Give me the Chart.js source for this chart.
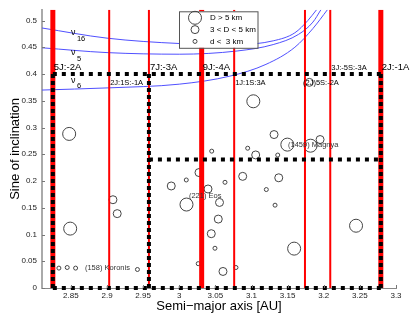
<!DOCTYPE html>
<html>
<head>
<meta charset="utf-8">
<script src="https://cdn.jsdelivr.net/npm/chart.js@4.4.1/dist/chart.umd.min.js"></script>
<style>
  html, body { margin: 0; padding: 0; background: #fff; }
  #wrap { width: 415px; height: 319px; }
</style>
</head>
<body>
<div id="wrap"><canvas id="chart" width="415" height="319"></canvas></div>
<script>
// Resonances and asteroid families in the outer main belt (a vs sin i)

// ----------------- Data ----------------
const xTicks = [2.85, 2.9, 2.95, 3, 3.05, 3.1, 3.15, 3.2, 3.25, 3.3];
const xTickLabels = ["2.85", "2.9", "2.95", "3", "3.05", "3.1", "3.15", "3.2", "3.25", "3.3"];
const yTicks = [0, 0.05, 0.1, 0.15, 0.2, 0.25, 0.3, 0.35, 0.4, 0.45, 0.5];
const yTickLabels = ["0", "0.05", "0.1", "0.15", "0.2", "0.25", "0.3", "0.35", "0.4", "0.45", "0.5"];

// mean-motion resonances (semi-major axis, AU)
const resNames = ["5J:-2A", "2J:1S:-1A", "7J:-3A", "9J:-4A", "1J:1S:3A", "(2J)5S:-2A", "3J:-5S:-3A", "2J:-1A"];
const resA = [2.825, 2.903, 2.958, 3.031, 3.076, 3.174, 3.209, 3.279];
const resStrong = [true, false, false, true, false, false, false, true];
const resLabelAbove = [true, false, true, true, false, false, true, true];

// family region boundaries
const boundA = [2.825, 2.958, 3.279];
const boundTop = 0.4;
const boundMid = 0.24;

// secular resonances
const secNames = ["16", "5", "6"];
const nu16A = [2.81, 2.90, 3.00, 3.08, 3.13, 3.16, 3.178, 3.19];
const nu16S = [0.486, 0.467, 0.457, 0.455, 0.462, 0.477, 0.50, 0.52];
const nu5A = [2.81, 2.90, 3.00, 3.08, 3.13, 3.165, 3.185, 3.196];
const nu5S = [0.449, 0.440, 0.437, 0.443, 0.455, 0.474, 0.497, 0.52];
const nu6A = [2.81, 2.90, 3.00, 3.07, 3.12, 3.16, 3.185, 3.205];
const nu6S = [0.370, 0.374, 0.381, 0.396, 0.418, 0.450, 0.485, 0.52];
const secLabelS = [0.477, 0.440, 0.3885];

// asteroids by size class
const bigA = [2.8476, 2.849, 3.010, 3.1025, 3.1496, 3.1817, 3.159, 3.2447];
const bigS = [0.288, 0.111, 0.156, 0.349, 0.268, 0.266, 0.0736, 0.1164];
const midA = [2.9082, 2.9141, 2.9889, 3.0273, 3.0398, 3.0557, 3.0540, 3.0443, 3.0605, 3.0878, 3.1058, 3.1377, 3.1312, 3.1949, 3.180];
const midS = [0.165, 0.139, 0.1907, 0.2158, 0.1851, 0.1599, 0.1288, 0.1015, 0.0309, 0.2087, 0.2487, 0.206, 0.2868, 0.2775, 0.3844];
const smallA = [2.8334, 2.8449, 2.8565, 2.9421, 3.0097, 3.0449, 3.0947, 3.0633, 3.1205, 3.1363, 3.1326, 3.0494, 3.0262, 3.0785];
const smallS = [0.0372, 0.0383, 0.0372, 0.0346, 0.2019, 0.2558, 0.2613, 0.1976, 0.184, 0.2485, 0.1548, 0.0743, 0.0455, 0.0383];

const sizeLabels = ["D > 5 km", "3 < D < 5 km", "d <  3 km"];
const sizeRadius = [6.5, 4, 2];

const namedLabels = ["(158) Koronis", "(221) Eos", "(1459) Magnya"];
const namedA = [2.8694, 3.0134, 3.1505];
const namedS = [0.0377, 0.1716, 0.268];

// ----------------- Helpers ----------------
const FONT = '"Liberation Sans", Arial, Helvetica, sans-serif';
const zip = (xs, ys) => xs.map((v, i) => ({ x: v, y: ys[i] }));
const CIRCLE_EDGE = "#444";

const datasets = [];

// black dotted boundaries (on top)
const dotted = (pts, dash) => ({
  type: "line", data: pts, showLine: true, borderColor: "#000", borderWidth: 4,
  borderDash: dash, borderCapStyle: "butt", pointRadius: 0, fill: false, clip: false, order: 0
});
datasets.push(dotted([{ x: boundA[0], y: 0 }, { x: boundA[2], y: 0 }], [4, 5]));
datasets.push(dotted([{ x: boundA[0], y: boundTop }, { x: boundA[2], y: boundTop }], [4, 5]));
datasets.push(dotted([{ x: boundA[1], y: boundMid }, { x: boundA[2], y: boundMid }], [4, 5]));
boundA.forEach((a) => datasets.push(dotted([{ x: a, y: 0 }, { x: a, y: boundTop }], [4, 3])));

// red resonance lines
resA.forEach((a, i) => {
  datasets.push({
    type: "line", data: [{ x: a, y: 0 }, { x: a, y: 0.52 }], showLine: true,
    borderColor: "#ff0000", borderWidth: resStrong[i] ? 5 : 2,
    pointRadius: 0, fill: false, order: 1
  });
});

// secular resonance curves
[[nu16A, nu16S], [nu5A, nu5S], [nu6A, nu6S]].forEach(([xs, ys]) => {
  datasets.push({
    type: "line", data: zip(xs, ys), showLine: true, borderColor: "rgb(80,80,255)",
    borderWidth: 1, pointRadius: 0, fill: false, cubicInterpolationMode: "monotone", order: 2
  });
});

// asteroids
[[bigA, bigS], [midA, midS], [smallA, smallS]].forEach(([xs, ys], k) => {
  datasets.push({
    type: "scatter", data: zip(xs, ys), pointRadius: sizeRadius[k], pointStyle: "circle",
    borderColor: CIRCLE_EDGE, borderWidth: 1, backgroundColor: "rgba(0,0,0,0)", order: 3
  });
});

// ----------------- Overlay: labels, legend, ticks ----------------
const overlay = {
  id: "overlay",
  afterDatasetsDraw(chart) {
    const { ctx, chartArea: area, scales: { x, y } } = chart;
    ctx.save();

    // inward tick marks
    ctx.strokeStyle = "#777";
    ctx.lineWidth = 1;
    ctx.beginPath();
    xTicks.forEach((v) => {
      const px = Math.round(x.getPixelForValue(v)) + 0.5;
      ctx.moveTo(px, area.bottom); ctx.lineTo(px, area.bottom - 3);
    });
    yTicks.forEach((v) => {
      const py = Math.round(y.getPixelForValue(v)) + 0.5;
      ctx.moveTo(area.left, py); ctx.lineTo(area.left + 3, py);
    });
    ctx.stroke();

    // resonance labels
    ctx.fillStyle = "#000";
    const lineY = y.getPixelForValue(boundTop);
    resNames.forEach((name, i) => {
      const threeBody = name.includes("S");
      ctx.font = (threeBody ? 7.5 : 9.5) + "px " + FONT;
      const px = x.getPixelForValue(resA[i]) + (name[0] === "(" ? -2 : 1);
      if (resLabelAbove[i]) {
        ctx.textBaseline = "alphabetic";
        ctx.fillText(name, px, lineY - 4);
      } else {
        ctx.textBaseline = "middle";
        ctx.fillText(name, px, lineY + 8.5);
      }
    });

    // secular resonance labels (nu with subscript)
    secNames.forEach((sub, i) => {
      const px = x.getPixelForValue(2.85);
      const py = y.getPixelForValue(secLabelS[i]);
      ctx.textBaseline = "middle";
      ctx.font = "9px " + FONT;
      ctx.fillText("\u03bd", px, py);
      ctx.font = "7.5px " + FONT;
      ctx.fillText(sub, px + 6, py + 6);
    });

    // named asteroid labels
    ctx.fillStyle = "#333";
    ctx.font = "7.5px " + FONT;
    ctx.textBaseline = "middle";
    namedLabels.forEach((t, i) => {
      ctx.fillText(t, x.getPixelForValue(namedA[i]), y.getPixelForValue(namedS[i]));
    });

    // legend box
    const bx = area.left + 137, by = area.top + 1.5, bw = 78.5, bh = 36.5;
    ctx.fillStyle = "#fff";
    ctx.fillRect(bx, by, bw, bh);
    ctx.strokeStyle = "#555";
    ctx.lineWidth = 1;
    ctx.strokeRect(bx + 0.5, by + 0.5, bw, bh);
    ctx.font = "8px " + FONT;
    ctx.fillStyle = "#000";
    sizeLabels.forEach((t, i) => {
      const cy = by + 6.5 + i * 11.8;
      ctx.beginPath();
      ctx.strokeStyle = CIRCLE_EDGE;
      ctx.arc(bx + 16, cy, sizeRadius[i], 0, Math.PI * 2);
      ctx.stroke();
      ctx.fillText(t, bx + 31, cy);
    });

    ctx.restore();
  }
};

// ----------------- Chart ----------------
new Chart(document.getElementById("chart"), {
  type: "scatter",
  data: { datasets },
  plugins: [overlay],
  options: {
    responsive: false,
    animation: false,
    events: [],
    layout: { padding: { top: 8, right: 19, bottom: 0, left: 0 } },
    plugins: { legend: { display: false }, tooltip: { enabled: false } },
    scales: {
      x: {
        type: "linear", min: 2.81, max: 3.3,
        afterBuildTicks: (s) => { s.ticks = xTicks.map((v) => ({ value: v })); },
        afterFit: (s) => { s.height = 31; },
        grid: { display: false, drawTicks: false },
        border: { color: "#888", width: 1 },
        ticks: {
          autoSkip: false, maxRotation: 0, padding: 3, color: "#222",
          font: { family: FONT, size: 8 },
          callback: (v, i) => xTickLabels[i]
        },
        title: {
          display: true, text: "Semi\u2212major axis [AU]", color: "#000",
          font: { family: FONT, size: 13 }, padding: { top: 0, bottom: 5 }
        }
      },
      y: {
        type: "linear", min: 0, max: 0.52,
        afterBuildTicks: (s) => { s.ticks = yTicks.map((v) => ({ value: v })); },
        afterFit: (s) => { s.width = 42; },
        grid: { display: false, drawTicks: false },
        border: { color: "#aaa", width: 2 },
        ticks: {
          autoSkip: false, padding: 5, color: "#222",
          font: { family: FONT, size: 8 },
          callback: (v, i) => yTickLabels[i]
        },
        title: {
          display: true, text: "Sine of inclination", color: "#000",
          font: { family: FONT, size: 13 }, padding: { top: 8, bottom: 0 }
        }
      }
    }
  }
});
</script>
</body>
</html>
